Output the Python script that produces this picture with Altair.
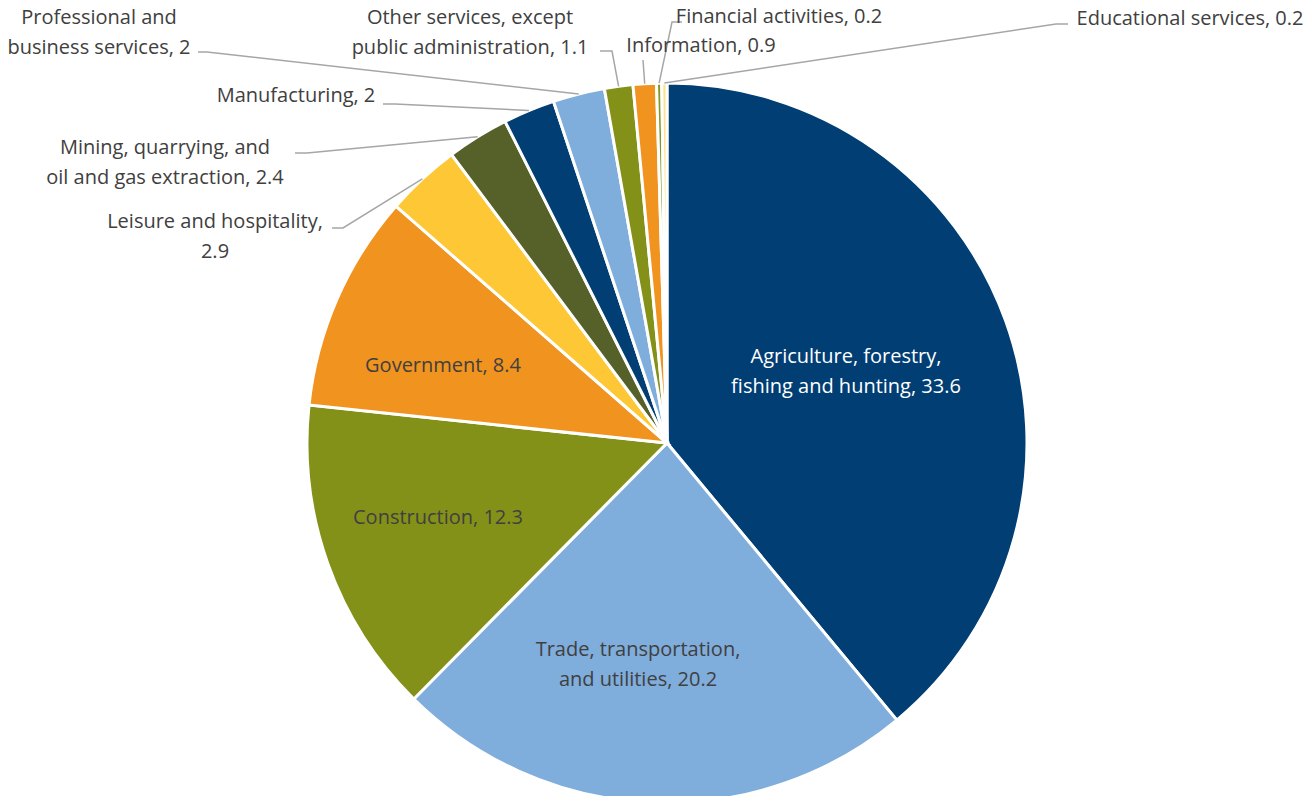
import math
import altair as alt
import pandas as pd

# ---- data ----
categories = [
    "Agriculture, forestry, fishing and hunting",
    "Trade, transportation, and utilities",
    "Construction",
    "Government",
    "Leisure and hospitality",
    "Mining, quarrying, and oil and gas extraction",
    "Manufacturing",
    "Professional and business services",
    "Other services, except public administration",
    "Information",
    "Financial activities",
    "Educational services",
]
values = [33.6, 20.2, 12.3, 8.4, 2.9, 2.4, 2.0, 2.0, 1.1, 0.9, 0.2, 0.2]
label_lines = [
    ["Agriculture, forestry,", "fishing and hunting, 33.6"],
    ["Trade, transportation,", "and utilities, 20.2"],
    ["Construction, 12.3"],
    ["Government, 8.4"],
    ["Leisure and hospitality,", "2.9"],
    ["Mining, quarrying, and", "oil and gas extraction, 2.4"],
    ["Manufacturing, 2"],
    ["Professional and", "business services, 2"],
    ["Other services, except", "public administration, 1.1"],
    ["Information, 0.9"],
    ["Financial activities, 0.2"],
    ["Educational services, 0.2"],
]
colors = ["#003E74", "#7FADDC", "#849118", "#F1931F", "#FDC735", "#556128",
          "#003E74", "#7FADDC", "#849118", "#F1931F", "#7E9A22", "#FFE08E"]
text_colors = ["white", "#404040", "#404040", "#404040", "#404040", "#404040",
               "#404040", "#404040", "#404040", "#404040", "#404040", "#404040"]

# ---- layout (annotation placement, chart pixel coords) ----
W, H = 1296, 788
CX, CY, R = 659, 435, 360
label_anchor = [(838, 364), (630, 657), (430, 510), (435, 358), (207, 229), (157, 155),
                (288, 88), (91, 25), (462, 25), (693, 38), (771, 9), (1182, 11)]
# leader line: elbow point and end point (None for inside labels)
leader_pts = [None, None, None, None,
              [(335, 220), (324, 220)],
              [(299, 145), (287, 145)],
              [(387, 96), (375, 96)],
              [(199, 44), (190, 44)],
              [(604, 43), (592, 43)],
              [(635, 52)],
              [(664, 14), (674, 14)],
              [(1048, 16), (1060, 16)]]

pie_df = pd.DataFrame({"category": categories, "value": values,
                       "idx": list(range(len(categories)))})

# text rows
trows = []
for i, lines in enumerate(label_lines):
    ax, ay = label_anchor[i]
    n = len(lines)
    for j, ln in enumerate(lines):
        trows.append({"x": ax, "y": ay + (j - (n - 1) / 2) * 30, "t": ln,
                      "c": text_colors[i]})
text_df = pd.DataFrame(trows)

# leader rows: start at slice edge at its mid angle
total = sum(values)
lrows = []
cum = 0.0
for i, v in enumerate(values):
    mid = (cum + v / 2) / total * 2 * math.pi
    cum += v
    if leader_pts[i] is None:
        continue
    sx = CX + R * math.sin(mid)
    sy = CY - R * math.cos(mid)
    pts = [(sx, sy)] + leader_pts[i]
    for k, (px, py) in enumerate(pts):
        lrows.append({"x": px, "y": py, "k": k, "cat": categories[i]})
lead_df = pd.DataFrame(lrows)

pie = alt.Chart(pie_df).mark_arc(
    outerRadius=R, stroke="white", strokeWidth=3
).encode(
    theta=alt.Theta("value:Q", stack=True),
    order=alt.Order("idx:Q"),
    color=alt.Color("category:N", scale=alt.Scale(domain=categories, range=colors), legend=None),
    x=alt.value(CX),
    y=alt.value(CY),
)

leaders = alt.Chart(lead_df).mark_line(color="#A6A6A6", strokeWidth=1.5).encode(
    x=alt.X("x:Q", scale=None, axis=None),
    y=alt.Y("y:Q", scale=None, axis=None),
    order="k:Q",
    detail="cat:N",
)

texts = alt.Chart(text_df).mark_text(
    font="Open Sans", fontSize=20, align="center", baseline="middle"
).encode(
    x=alt.X("x:Q", scale=None, axis=None),
    y=alt.Y("y:Q", scale=None, axis=None),
    text="t:N",
    color=alt.Color("c:N", scale=None),
)

chart = alt.layer(pie, leaders, texts).properties(
    width=W, height=H, padding=0, autosize=alt.AutoSizeParams(type="none")
).configure_view(strokeWidth=0)

chart.save("out.html", embed_options={"renderer": "svg", "actions": False})
